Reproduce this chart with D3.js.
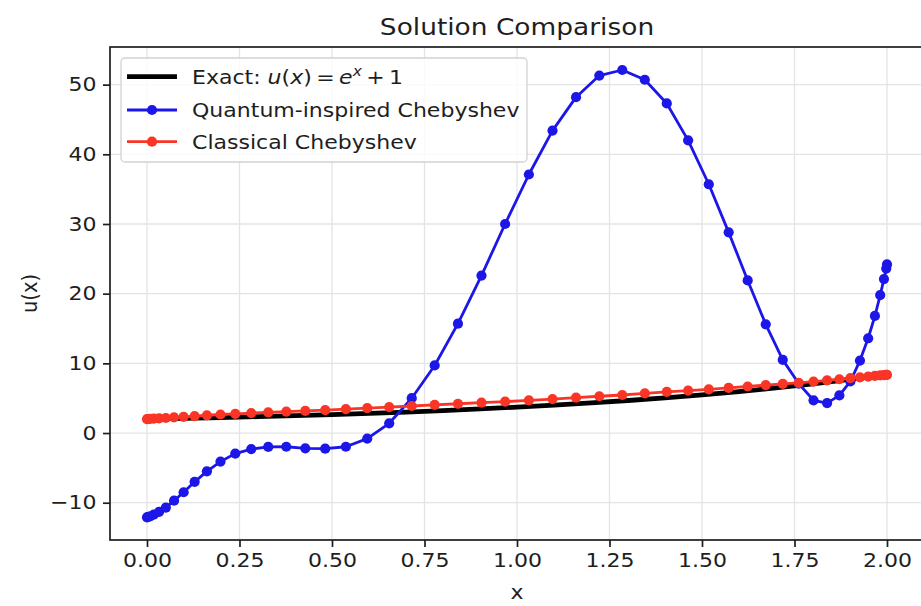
<!DOCTYPE html>
<html>
<head>
<meta charset="utf-8">
<script src="https://cdn.jsdelivr.net/npm/d3@7"></script>
<style>
  body { margin: 0; background: #fff; }
  svg { display: block; font-family: "DejaVu Sans", sans-serif; }
</style>
</head>
<body>
<div id="chart"></div>
<script>
// collocation points
const nodesX = [
  0, 0.0021, 0.0082, 0.0184, 0.0327, 0.0509, 0.0731, 0.0990, 0.1287, 0.1619,
  0.1986, 0.2386, 0.2817, 0.3277, 0.3765, 0.4279, 0.4816, 0.5375, 0.5952, 0.6546,
  0.7155, 0.7775, 0.8404, 0.9040, 0.9679, 1.0321, 1.0960, 1.1596, 1.2225, 1.2845,
  1.3454, 1.4048, 1.4625, 1.5184, 1.5721, 1.6235, 1.6723, 1.7183, 1.7614, 1.8014,
  1.8381, 1.8713, 1.9010, 1.9269, 1.9491, 1.9673, 1.9816, 1.9918, 1.9979, 2.0
];
const quantumY = [
  -12.1, -12.05, -11.95, -11.7, -11.3, -10.7, -9.7, -8.5, -7.0, -5.5,
  -4.1, -2.95, -2.3, -2.0, -1.97, -2.2, -2.25, -1.97, -0.8, 1.4,
  5.0, 9.7, 15.7, 22.6, 30.0, 37.1, 43.4, 48.2, 51.3, 52.1,
  50.7, 47.3, 42.0, 35.7, 28.8, 21.9, 15.6, 10.5, 7.1, 4.7,
  4.3, 5.4, 7.4, 10.4, 13.6, 16.8, 19.8, 22.1, 23.6, 24.2
];
const classicalY = [
  2.0, 2.01, 2.03, 2.06, 2.1, 2.16, 2.24, 2.33, 2.44, 2.55,
  2.66, 2.76, 2.86, 2.97, 3.07, 3.18, 3.3, 3.42, 3.57, 3.72,
  3.88, 4.04, 4.2, 4.36, 4.5, 4.7, 4.88, 5.07, 5.28, 5.46,
  5.68, 5.9, 6.1, 6.28, 6.48, 6.68, 6.88, 7.05, 7.2, 7.38,
  7.55, 7.72, 7.88, 8.0, 8.1, 8.2, 8.27, 8.32, 8.35, 8.36
];
// exact solution e^x + 1
const exactX = [0, 0.1, 0.2, 0.3, 0.4, 0.5, 0.6, 0.7, 0.8, 0.9, 1.0,
                1.1, 1.2, 1.3, 1.4, 1.5, 1.6, 1.7, 1.8, 1.9, 2.0];
const exactY = [2.0, 2.1052, 2.2214, 2.3499, 2.4918, 2.6487, 2.8221, 3.0138, 3.2255, 3.4596, 3.7183,
                4.0042, 4.3201, 4.6693, 5.0552, 5.4817, 5.9530, 6.4739, 7.0496, 7.6859, 8.3891];

const xTicks = [0, 0.25, 0.5, 0.75, 1.0, 1.25, 1.5, 1.75, 2.0];
const yTicks = [-10, 0, 10, 20, 30, 40, 50];
const seriesLabels = ["Quantum-inspired Chebyshev", "Classical Chebyshev"];

const W = 921, H = 606;
const m = {left: 110, right: 924, top: 47, bottom: 540};
const stretch = 1.13;   // the picture is a bit wider than tall, text too
const fs = 19.5;
const blue = "#1c16e8", red = "#fa3526", ink = "#1e1e1e";
const markR = 5.1, lw = 2.8;

const svg = d3.select("#chart").append("svg")
    .attr("width", W)
    .attr("height", H);

const x = d3.scaleLinear().domain([-0.1, 2.1]).range([m.left, m.right]);
const y = d3.scaleLinear().domain([-15.35, 55.4]).range([m.bottom, m.top]);

// grid
svg.append("g").selectAll("line").data(xTicks).join("line")
    .attr("x1", d => x(d)).attr("x2", d => x(d))
    .attr("y1", m.top).attr("y2", m.bottom)
    .attr("stroke", "#e4e4e4").attr("stroke-width", 1.3);
svg.append("g").selectAll("line").data(yTicks).join("line")
    .attr("x1", m.left).attr("x2", m.right)
    .attr("y1", d => y(d)).attr("y2", d => y(d))
    .attr("stroke", "#e4e4e4").attr("stroke-width", 1.3);

const line = d3.line().x(d => x(d[0])).y(d => y(d[1]));

// exact
svg.append("path")
    .datum(d3.zip(exactX, exactY))
    .attr("d", line)
    .attr("fill", "none")
    .attr("stroke", "#000")
    .attr("stroke-width", 4.8)
    .attr("stroke-linejoin", "round");

function drawSeries(vals, color) {
  const pts = d3.zip(nodesX, vals);
  svg.append("path")
      .datum(pts)
      .attr("d", line)
      .attr("fill", "none")
      .attr("stroke", color)
      .attr("stroke-width", lw)
      .attr("stroke-linejoin", "round");
  svg.append("g").selectAll("circle").data(pts).join("circle")
      .attr("cx", d => x(d[0]))
      .attr("cy", d => y(d[1]))
      .attr("r", markR)
      .attr("fill", color);
}
drawSeries(quantumY, blue);
drawSeries(classicalY, red);

// spines
svg.append("rect")
    .attr("x", m.left).attr("y", m.top)
    .attr("width", m.right - m.left).attr("height", m.bottom - m.top)
    .attr("fill", "none").attr("stroke", ink).attr("stroke-width", 1.7);

// axes
const xAxis = svg.append("g")
    .attr("transform", `translate(0,${m.bottom})`)
    .call(d3.axisBottom(x).tickValues(xTicks).tickFormat(d3.format(".2f")).tickSize(7).tickPadding(6));
const yAxis = svg.append("g")
    .attr("transform", `translate(${m.left},0)`)
    .call(d3.axisLeft(y).tickValues(yTicks).tickSize(7).tickPadding(5));

[xAxis, yAxis].forEach(ax => {
  ax.select(".domain").remove();
  ax.selectAll("line").attr("stroke", ink).attr("stroke-width", 1.7);
  ax.selectAll("text")
      .attr("font-size", fs)
      .attr("font-family", "DejaVu Sans")
      .attr("fill", ink)
      .attr("transform", `scale(${stretch},1)`);
});

// title and axis labels
svg.append("text")
    .attr("transform", `translate(${(m.left + m.right) / 2},35) scale(${stretch},1)`)
    .attr("text-anchor", "middle")
    .attr("font-size", fs * 1.2)
    .attr("fill", ink)
    .text("Solution Comparison");

svg.append("text")
    .attr("transform", `translate(${(m.left + m.right) / 2},599) scale(${stretch},1)`)
    .attr("text-anchor", "middle")
    .attr("font-size", fs)
    .attr("fill", ink)
    .text("x");

svg.append("text")
    .attr("transform", `translate(37,${(m.top + m.bottom) / 2}) scale(${stretch},1) rotate(-90)`)
    .attr("text-anchor", "middle")
    .attr("font-size", fs)
    .attr("fill", ink)
    .text("u(x)");

// legend
const leg = svg.append("g");
leg.append("rect")
    .attr("x", 121).attr("y", 58)
    .attr("width", 406).attr("height", 104)
    .attr("rx", 4)
    .attr("fill", "#fff").attr("fill-opacity", 0.8)
    .attr("stroke", "#d2d2d2").attr("stroke-width", 1.3);

const rowY = [76.7, 110, 141.7];

leg.append("line")
    .attr("x1", 127).attr("x2", 177)
    .attr("y1", rowY[0]).attr("y2", rowY[0])
    .attr("stroke", "#000").attr("stroke-width", 4.8);

[blue, red].forEach((c, i) => {
  leg.append("line")
      .attr("x1", 127).attr("x2", 177)
      .attr("y1", rowY[i + 1]).attr("y2", rowY[i + 1])
      .attr("stroke", c).attr("stroke-width", lw);
  leg.append("circle")
      .attr("cx", 152).attr("cy", rowY[i + 1]).attr("r", markR)
      .attr("fill", c);
});

const t0 = leg.append("text")
    .attr("transform", `translate(192,${rowY[0] + 7}) scale(${stretch},1)`)
    .attr("font-size", fs)
    .attr("fill", ink);
t0.append("tspan").text("Exact: ");
t0.append("tspan").attr("font-style", "italic").text("u");
t0.append("tspan").text("(");
t0.append("tspan").attr("font-style", "italic").text("x");
t0.append("tspan").text(")\u2009=\u2009");
t0.append("tspan").attr("font-style", "italic").text("e");
t0.append("tspan").attr("font-style", "italic").attr("font-size", fs * 0.7).attr("dy", -8).text("x");
t0.append("tspan").attr("dy", 8).text("\u2009+\u20091");

seriesLabels.forEach((s, i) => {
  leg.append("text")
      .attr("transform", `translate(192,${rowY[i + 1] + 7}) scale(${stretch},1)`)
      .attr("font-size", fs)
      .attr("fill", ink)
      .text(s);
});
</script>
</body>
</html>
